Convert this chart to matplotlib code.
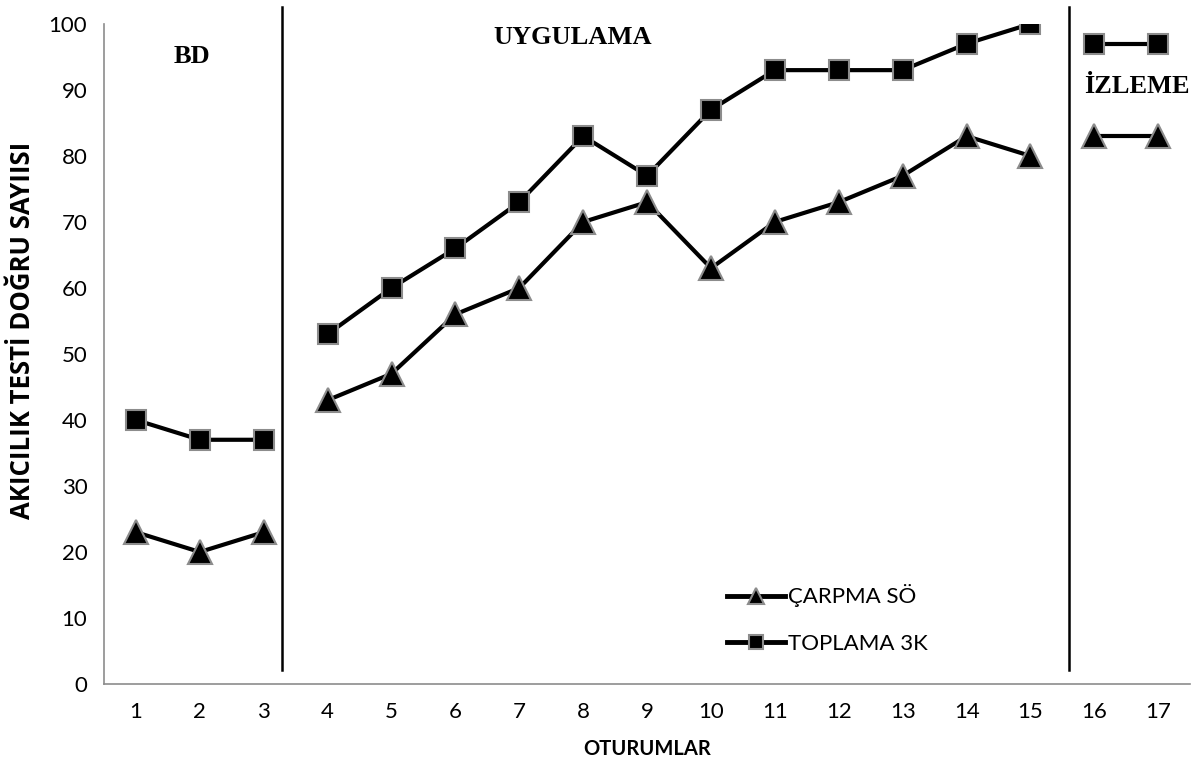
import numpy as np
import matplotlib.pyplot as plt

sessions = list(range(1, 18))
carpma = [23, 20, 23, 43, 47, 56, 60, 70, 73, 63, 70, 73, 77, 83, 80, 83, 83]
toplama = [40, 37, 37, 53, 60, 66, 73, 83, 77, 87, 93, 93, 93, 97, 100, 97, 97]
# phase boundaries (index ranges): BD, UYGULAMA, IZLEME
phases = [(0, 3), (3, 15), (15, 17)]

plt.rcParams['font.family'] = ['Lato', 'DejaVu Sans']

fig = plt.figure(figsize=(11.95, 7.72), dpi=100)
ax = fig.add_axes([0.087, 0.114, 0.909, 0.855])

x = np.array(sessions)
c = np.array(carpma)
t = np.array(toplama)
for k, (a, b) in enumerate(phases):
    ax.plot(x[a:b], c[a:b], color='black', lw=3, marker='^', ms=17,
            mfc='black', mec='#8c8c8c', mew=1.5,
            label='ÇARPMA SÖ' if k == 0 else None)
    ax.plot(x[a:b], t[a:b], color='black', lw=3, marker='s', ms=14,
            mfc='black', mec='#8c8c8c', mew=1.5,
            label='TOPLAMA 3K' if k == 0 else None)

# phase change lines
for xv in [3.28, 15.6]:
    ax.plot([xv, xv], [2.1, 102.5], color='black', lw=1.8, clip_on=False)

serif = dict(fontfamily='Liberation Serif', fontweight='bold',
             fontsize=19, ha='center', va='center')
ax.text(1.88, 95, "BD", **serif)
ax.text(7.84, 98, "UYGULAMA", **serif)
ax.text(16.67, 90.5, "İZLEME", **serif)

ax.set_xlim(0.5, 17.5)
ax.set_ylim(0, 100)
ax.set_xticks(sessions)
ax.set_yticks(range(0, 101, 10))
ax.tick_params(length=0, labelsize=16, pad=13)
ax.tick_params(axis='y', pad=12)
for s in ['top', 'right']:
    ax.spines[s].set_visible(False)
for s in ['left', 'bottom']:
    ax.spines[s].set_color('#8c8c8c')
    ax.spines[s].set_linewidth(1.2)

ax.set_xlabel("OTURUMLAR", fontweight='bold', fontsize=14.5, labelpad=12)
ax.set_ylabel("AKICILIK TESTİ DOĞRU SAYIISI", fontweight='bold', fontsize=18.5,
              fontfamily=['Open Sans', 'DejaVu Sans'])
ax.yaxis.set_label_coords(-0.063, 0.535)

leg = ax.legend(loc='lower left', bbox_to_anchor=(0.555, 0.015), frameon=False,
                fontsize=16, handlelength=2.6, handletextpad=0.15,
                labelspacing=1.2, markerscale=0.7)
for line in leg.get_lines():
    line.set_linewidth(3.5)

fig.savefig("out.png", dpi=100)
